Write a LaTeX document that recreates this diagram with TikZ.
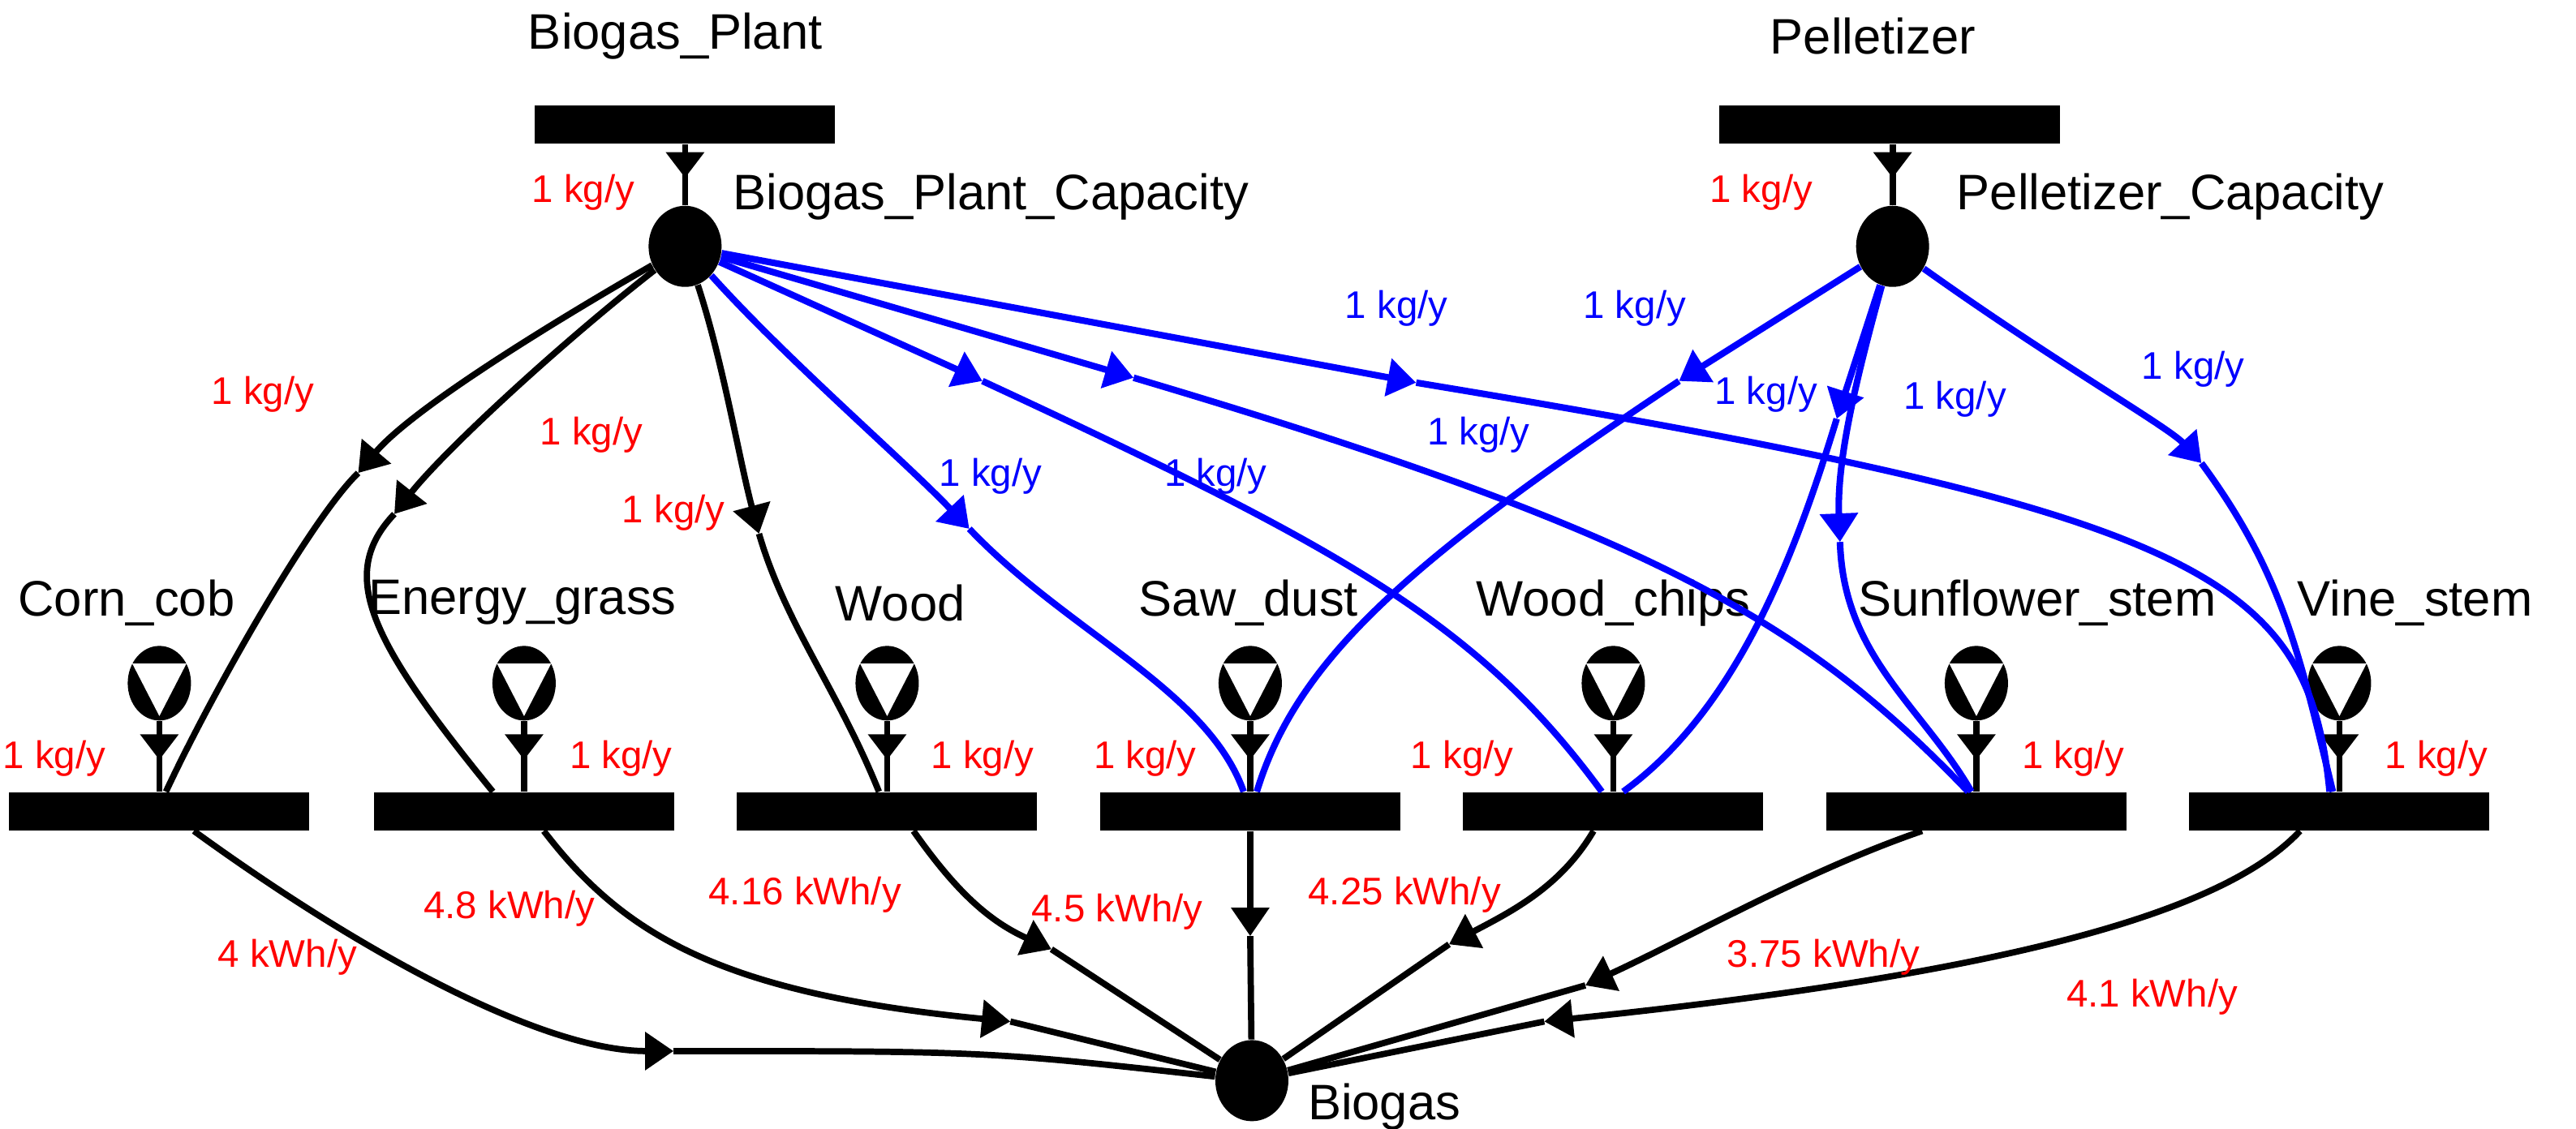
\documentclass[tikz,border=0pt]{standalone}
\usepackage{fontspec}
\setmainfont{Liberation Sans}
\usetikzlibrary{arrows.meta,shapes.geometric,calc,decorations.markings}
\begin{document}
\begin{tikzpicture}[x=0.02025cm,y=-0.02025cm,
  bar/.style={draw=none,fill=black,minimum width=3.7cm,minimum height=0.47cm,inner sep=0},
  place/.style={ellipse,fill=black,minimum width=0.9cm,minimum height=1.0cm,inner sep=0},
  nm/.style={font=\fontsize{17.5}{20}\selectfont},
  rl/.style={text=red,font=\fontsize{13.5}{15}\selectfont},
  bl/.style={text=blue,font=\fontsize{13.5}{15}\selectfont},
  ln/.style={line width=2.2pt},
  bln/.style={line width=2.3pt,blue},
  arr/.style={-{Triangle[length=10pt,width=13pt]}},
  mid/.style={postaction={decorate},decoration={markings,mark=at position 0.55 with {\arrow{Triangle[length=9pt,width=13pt]}}}}
]
\useasboundingbox (0,0) rectangle (1568,687);
% top bars and places
\node[bar] (bp) at (417,76) {};
\node[bar,minimum width=4.2cm] (pl) at (1150,76) {};
\node[nm] at (411,22) {Biogas\_Plant};
\node[nm] at (1140,22) {Pelletizer};
\node[place] (bpc) at (417,150) {};
\node[place] (pcc) at (1152,150) {};
\node[nm,anchor=west] at (440,120) {Biogas\_Plant\_Capacity};
\node[nm,anchor=west] at (1185,120) {Pelletizer\_Capacity};
\draw[ln,mid] (bp.south) -- (bpc.north);
\draw[ln,mid] (pl.south-|pcc.north) -- (pcc.north);
\node[rl] at (355,117) {1 kg/y};
\node[rl] at (1072,117) {1 kg/y};
% biogas
\node[place] (bio) at (762,658) {};
\node[nm,anchor=west] at (790,674) {Biogas};
% bottom bars with sources
\foreach \i/\x/\nmtxt/\nx/\lx in {1/97/Corn\_cob/77/33,2/319/Energy\_grass/318/378,3/540/Wood/548/598,4/761/Saw\_dust/760/697,5/982/Wood\_chips/982/890,6/1203/Sunflower\_stem/1240/1262,7/1424/Vine\_stem/1470/1483}{
  \node[bar] (c\i) at (\x,494) {};
  \node[nm] at (\nx,367) {\nmtxt};
  \node[ellipse,fill=black,minimum width=0.78cm,minimum height=0.92cm,inner sep=0] (s\i) at (\x,416) {};
  \fill[white] (\x-16.5,404) -- (\x+16.5,404) -- (\x,436) -- cycle;
  \draw[ln,mid] (s\i.south) -- (c\i.north);
  \node[rl] at (\lx,462) {1 kg/y};
}
% black connectors from Biogas_Plant_Capacity
\draw[ln,arr] (bpc) .. controls (330,200) and (250,250) .. (218,288) coordinate (a1);
\draw[ln] (a1) .. controls (190,315) and (130,420) .. ($(c1.north)+(4,0)$);
\draw[ln,arr] (bpc) .. controls (340,210) and (270,275) .. (240,313) coordinate (a2);
\draw[ln] (a2) .. controls (205,350) and (225,390) .. ($(c2.north)+(-19,0)$);
\draw[ln,arr] (bpc) .. controls (440,220) and (450,280) .. (462,325) coordinate (a3);
\draw[ln] (a3) .. controls (478,380) and (510,420) .. ($(c3.north)+(-5,0)$);
\node[rl] at (160,240) {1 kg/y};
\node[rl] at (360,265) {1 kg/y};
\node[rl] at (410,312) {1 kg/y};
% blue connectors
\draw[bln,arr] (bpc) .. controls (480,220) and (550,280) .. (590,322) coordinate (b1);
\draw[bln] (b1) .. controls (650,385) and (735,420) .. ($(c4.north)+(-4,0)$);
\draw[bln,arr] (bpc) -- (598,232) coordinate (b2);
\draw[bln] (b2) .. controls (820,335) and (900,380) .. ($(c5.north)+(-7,0)$);
\draw[bln,arr] (bpc) -- (690,230) coordinate (b3);
\draw[bln] (b3) .. controls (1010,325) and (1100,380) .. ($(c6.north)+(-5,0)$);
\draw[bln,arr] (bpc) -- (862,233) coordinate (b4);
\draw[bln] (b4) .. controls (1340,312) and (1405,350) .. ($(c7.north)+(-6,0)$);
\draw[bln,arr] (pcc) -- (1022,232) coordinate (b5);
\draw[bln] (b5) .. controls (860,340) and (790,400) .. ($(c4.north)+(4,0)$);
\draw[bln,arr] (pcc) -- (1118,255) coordinate (b6);
\draw[bln] (b6) .. controls (1095,330) and (1060,430) .. ($(c5.north)+(6,0)$);
\draw[bln,arr] (pcc) .. controls (1130,230) and (1118,280) .. (1120,330) coordinate (b7);
\draw[bln] (b7) .. controls (1122,400) and (1170,430) .. ($(c6.north)+(-3,0)$);
\draw[bln,arr] (pcc) .. controls (1250,220) and (1320,260) .. (1340,282) coordinate (b8);
\draw[bln] (b8) .. controls (1390,350) and (1400,400) .. ($(c7.north)+(-4,0)$);
\node[bl] at (603,290) {1 kg/y};
\node[bl] at (740,290) {1 kg/y};
\node[bl] at (900,265) {1 kg/y};
\node[bl] at (850,188) {1 kg/y};
\node[bl] at (995,188) {1 kg/y};
\node[bl] at (1075,240) {1 kg/y};
\node[bl] at (1190,243) {1 kg/y};
\node[bl] at (1335,225) {1 kg/y};
% bottom connectors to Biogas
\draw[ln,arr] ($(c1.south)+(21,0)$) .. controls (220,580) and (330,640) .. (410,640) coordinate (d1);
\draw[ln] (d1) .. controls (600,640) .. (bio);
\draw[ln,arr] ($(c2.south)+(12,0)$) .. controls (380,570) and (440,605) .. (615,622) coordinate (d2);
\draw[ln] (d2) -- (bio);
\draw[ln,arr] ($(c3.south)+(16,0)$) .. controls (580,540) and (600,560) .. (640,578) coordinate (d3);
\draw[ln] (d3) -- (bio);
\draw[ln,arr] (c4.south) -- (761,570) coordinate (d4);
\draw[ln] (d4) -- (bio);
\draw[ln,arr] ($(c5.south)+(-12,0)$) .. controls (950,540) and (920,555) .. (882,575) coordinate (d5);
\draw[ln] (d5) -- (bio);
\draw[ln,arr] ($(c6.south)+(-33,0)$) .. controls (1100,530) and (1030,570) .. (965,600) coordinate (d6);
\draw[ln] (d6) -- (bio);
\draw[ln,arr] ($(c7.south)+(-24,0)$) .. controls (1350,560) and (1200,595) .. (940,622) coordinate (d7);
\draw[ln] (d7) -- (bio);
\node[rl] at (175,583) {4 kWh/y};
\node[rl] at (310,553) {4.8 kWh/y};
\node[rl] at (490,545) {4.16 kWh/y};
\node[rl] at (680,555) {4.5 kWh/y};
\node[rl] at (855,545) {4.25 kWh/y};
\node[rl] at (1110,583) {3.75 kWh/y};
\node[rl] at (1310,607) {4.1 kWh/y};
\end{tikzpicture}
\end{document}
